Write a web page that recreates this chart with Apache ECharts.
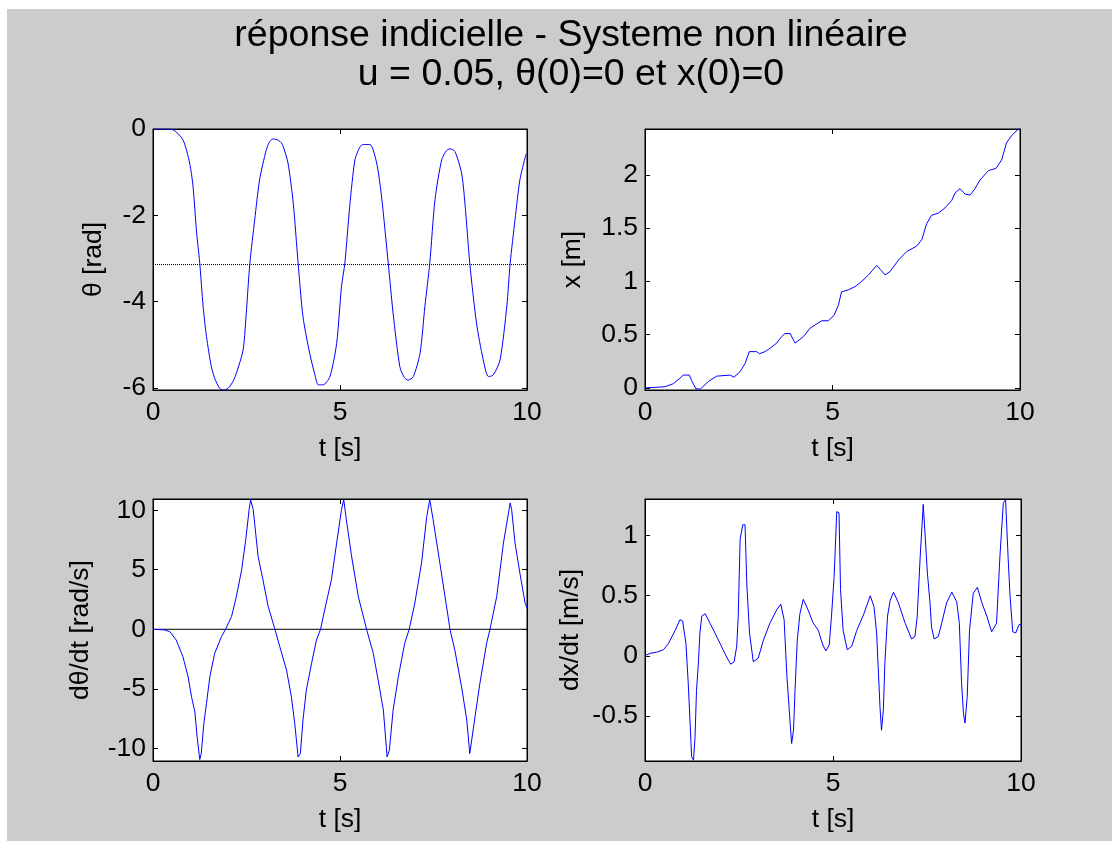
<!DOCTYPE html>
<html>
<head>
<meta charset="utf-8">
<script src="https://cdn.jsdelivr.net/npm/echarts@6/dist/echarts.min.js"></script>
<style>
  html, body { margin: 0; padding: 0; background: #ffffff; }
  #chart { width: 1112px; height: 841px; }
</style>
</head>
<body>
<div id="chart"></div>
<script>
// ---- simulated step response of the non-linear system (u = 0.05) ----
// pendulum angle theta [rad]
const tTheta = [0, 0.30, 0.54, 0.80, 0.98, 1.07, 1.16, 1.25, 1.34, 1.43, 1.56, 1.65, 1.78, 1.88, 2.01, 2.14, 2.23, 2.41, 2.50, 2.59, 2.72, 2.85, 3.03, 3.12, 3.21, 3.35, 3.43, 3.48, 3.61, 3.75, 3.88, 4.01, 4.19, 4.33, 4.42, 4.55, 4.73, 4.91, 5.04, 5.13, 5.26, 5.40, 5.53, 5.62, 5.80, 5.98, 6.11, 6.29, 6.42, 6.60, 6.72, 6.82, 6.96, 7.14, 7.27, 7.40, 7.54, 7.72, 7.85, 7.94, 8.07, 8.25, 8.34, 8.47, 8.65, 8.83, 8.97, 9.10, 9.28, 9.46, 9.55, 9.68, 9.81, 9.97, 10];
const theta  = [0, 0, -0.02, -0.25, -0.79, -1.33, -2.34, -3.11, -4.11, -4.81, -5.51, -5.78, -6.01, -6.05, -6.01, -5.85, -5.66, -5.12, -4.19, -3.11, -2.10, -1.18, -0.48, -0.29, -0.23, -0.26, -0.32, -0.40, -0.79, -1.72, -3.11, -4.35, -5.20, -5.70, -5.93, -5.93, -5.74, -4.97, -3.65, -3.11, -1.79, -0.71, -0.42, -0.36, -0.36, -0.79, -1.56, -3.11, -4.27, -5.51, -5.76, -5.82, -5.74, -5.20, -4.11, -3.11, -1.64, -0.71, -0.50, -0.46, -0.52, -1.02, -1.72, -3.11, -4.50, -5.35, -5.74, -5.70, -5.35, -4.11, -3.11, -2.10, -1.18, -0.60, -0.57];

// cart position x [m]
const tPos = [0, 0.53, 0.76, 0.93, 1.02, 1.18, 1.24, 1.36, 1.48, 1.69, 1.91, 2.27, 2.37, 2.53, 2.67, 2.78, 2.98, 3.05, 3.20, 3.33, 3.51, 3.64, 3.73, 3.87, 4.00, 4.04, 4.22, 4.40, 4.58, 4.71, 4.89, 5.04, 5.16, 5.24, 5.42, 5.60, 5.78, 5.96, 6.18, 6.28, 6.40, 6.53, 6.76, 6.98, 7.24, 7.38, 7.51, 7.64, 7.82, 8.00, 8.18, 8.27, 8.40, 8.53, 8.67, 8.80, 8.93, 9.16, 9.36, 9.51, 9.64, 9.78, 9.96, 10];
const xPos = [0, 0.01, 0.04, 0.09, 0.12, 0.12, 0.07, -0.01, -0.01, 0.06, 0.11, 0.12, 0.10, 0.15, 0.23, 0.34, 0.34, 0.32, 0.34, 0.37, 0.42, 0.48, 0.51, 0.51, 0.42, 0.42, 0.48, 0.56, 0.60, 0.63, 0.63, 0.68, 0.78, 0.90, 0.92, 0.95, 1.00, 1.06, 1.15, 1.11, 1.06, 1.09, 1.20, 1.28, 1.33, 1.39, 1.54, 1.62, 1.64, 1.69, 1.76, 1.83, 1.87, 1.82, 1.81, 1.87, 1.95, 2.04, 2.06, 2.14, 2.30, 2.37, 2.43, 2.43];

// angular velocity dtheta/dt [rad/s]
const tOmega = [0, 0.30, 0.45, 0.62, 0.80, 0.94, 1.03, 1.12, 1.18, 1.25, 1.29, 1.36, 1.43, 1.52, 1.65, 1.83, 1.94, 2.10, 2.23, 2.37, 2.48, 2.57, 2.61, 2.68, 2.81, 2.94, 3.08, 3.26, 3.39, 3.57, 3.70, 3.79, 3.88, 3.94, 4.01, 4.10, 4.24, 4.37, 4.48, 4.59, 4.77, 4.91, 5.04, 5.10, 5.17, 5.31, 5.49, 5.71, 5.89, 6.02, 6.16, 6.26, 6.32, 6.42, 6.56, 6.73, 6.85, 7.00, 7.18, 7.32, 7.40, 7.49, 7.67, 7.89, 7.94, 8.07, 8.25, 8.39, 8.47, 8.52, 8.61, 8.74, 8.92, 9.01, 9.19, 9.37, 9.55, 9.59, 9.68, 9.81, 9.95, 10];
const omega  = [0, -0.05, -0.2, -0.9, -2.3, -4.0, -5.67, -6.93, -9.03, -10.94, -10.44, -7.91, -6.23, -3.98, -2.02, -0.62, 0, 1.07, 2.75, 4.99, 7.52, 10.04, 10.89, 10.04, 6.12, 4.15, 1.91, 0, -1.46, -3.42, -5.67, -7.91, -10.72, -10.44, -7.63, -5.11, -2.86, -0.90, 0, 1.63, 4.15, 7.24, 10.04, 10.89, 9.20, 6.12, 2.75, 0, -2.02, -4.26, -6.79, -10.72, -10.16, -6.79, -3.98, -1.18, 0, 2.19, 5.56, 9.48, 10.89, 9.20, 5.56, 1.07, 0, -1.74, -4.83, -7.63, -10.44, -10.44, -7.35, -4.55, -1.18, 0, 2.75, 7.24, 10.61, 10.04, 7.24, 4.71, 2.19, 1.77];

// cart velocity dx/dt [m/s]
const tVel = [0, 0.13, 0.31, 0.49, 0.62, 0.80, 0.93, 1.00, 1.09, 1.15, 1.20, 1.24, 1.29, 1.33, 1.37, 1.42, 1.46, 1.51, 1.60, 1.73, 1.86, 2.00, 2.17, 2.28, 2.37, 2.44, 2.48, 2.53, 2.60, 2.66, 2.71, 2.78, 2.88, 3.01, 3.15, 3.32, 3.50, 3.61, 3.70, 3.77, 3.86, 3.90, 3.95, 3.99, 4.05, 4.12, 4.21, 4.34, 4.46, 4.61, 4.73, 4.81, 4.90, 4.96, 5.03, 5.10, 5.16, 5.20, 5.27, 5.38, 5.50, 5.63, 5.81, 5.99, 6.09, 6.16, 6.21, 6.25, 6.29, 6.34, 6.38, 6.45, 6.52, 6.61, 6.74, 6.92, 7.09, 7.18, 7.24, 7.32, 7.40, 7.45, 7.51, 7.58, 7.62, 7.69, 7.80, 7.89, 8.02, 8.16, 8.29, 8.36, 8.42, 8.47, 8.51, 8.57, 8.63, 8.73, 8.84, 8.96, 9.09, 9.22, 9.35, 9.44, 9.53, 9.59, 9.66, 9.71, 9.78, 9.86, 9.95, 10];
const vel  = [0, 0.02, 0.03, 0.05, 0.10, 0.21, 0.30, 0.29, 0.10, -0.23, -0.56, -0.84, -0.87, -0.68, -0.29, -0.06, 0.19, 0.33, 0.35, 0.27, 0.19, 0.10, -0.01, -0.07, -0.05, 0.08, 0.33, 0.97, 1.09, 1.09, 0.58, 0.19, -0.05, -0.02, 0.13, 0.27, 0.38, 0.43, 0.30, -0.15, -0.56, -0.73, -0.62, -0.29, 0.13, 0.35, 0.47, 0.38, 0.28, 0.21, 0.09, 0.04, 0.09, 0.33, 0.66, 1.20, 1.19, 0.55, 0.21, 0.05, 0.08, 0.21, 0.34, 0.50, 0.41, 0.19, -0.15, -0.43, -0.62, -0.45, -0.06, 0.33, 0.46, 0.53, 0.44, 0.27, 0.14, 0.16, 0.33, 0.83, 1.26, 1.27, 0.69, 0.44, 0.24, 0.14, 0.16, 0.27, 0.44, 0.53, 0.45, 0.27, -0.23, -0.48, -0.56, -0.34, 0.21, 0.52, 0.57, 0.44, 0.33, 0.20, 0.27, 0.83, 1.27, 1.30, 0.80, 0.49, 0.20, 0.19, 0.26, 0.26];

// tick labels of each panel
const timeTicks  = [0, 5, 10];
const thetaTicks = [-6, -4, -2, 0];
const posTicks   = [0, 0.5, 1, 1.5, 2];
const omegaTicks = [-10, -5, 0, 5, 10];
const velTicks   = [-0.5, 0, 0.5, 1];

// reference levels
const thetaRef = -Math.PI;   // upright position
const omegaRef = 0;

// axis limits (tight on data)
const yLimits = [[-6.05, 0], [-0.02, 2.43], [-11.06, 10.94], [-0.876, 1.305]];

const zip = (a, b) => a.map((v, i) => [v, b[i]]);

const FONT = 'Liberation Sans';
const FS = 26.5;

const panels = [
  { grid: { left: 153, top: 129, width: 374, height: 261 }, ylabel: 'θ [rad]',        ticks: thetaTicks, nameGap: 46 },
  { grid: { left: 645, top: 129, width: 375, height: 261 }, ylabel: 'x [m]',          ticks: posTicks,   nameGap: 59 },
  { grid: { left: 153, top: 499, width: 374, height: 262 }, ylabel: 'dθ/dt [rad/s]',  ticks: omegaTicks, nameGap: 59 },
  { grid: { left: 645, top: 499, width: 376, height: 262 }, ylabel: 'dx/dt [m/s]',    ticks: velTicks,   nameGap: 61 }
];

const grid = [], xAxis = [], yAxis = [];
const tickStyle = { show: true, inside: true, length: 5, lineStyle: { color: '#000', width: 1 } };
const lineStyleAxis = { show: true, onZero: false, lineStyle: { color: '#000', width: 1 } };

panels.forEach((p, i) => {
  grid.push(Object.assign({ show: true, backgroundColor: '#ffffff', borderColor: '#000', borderWidth: 1, containLabel: false }, p.grid));
  // bottom time axis
  xAxis.push({
    type: 'value', gridIndex: i, min: 0, max: 10, position: 'bottom',
    axisLine: lineStyleAxis,
    axisTick: Object.assign({ customValues: timeTicks }, tickStyle),
    splitLine: { show: false },
    axisLabel: { customValues: timeTicks, color: '#000', fontFamily: FONT, fontSize: FS, margin: 9 },
    name: 't [s]', nameLocation: 'middle', nameGap: 45,
    nameTextStyle: { color: '#000', fontFamily: FONT, fontSize: FS }
  });
  // top frame axis
  xAxis.push({
    type: 'value', gridIndex: i, min: 0, max: 10, position: 'top',
    axisLine: lineStyleAxis,
    axisTick: Object.assign({ customValues: timeTicks }, tickStyle),
    splitLine: { show: false },
    axisLabel: { show: false }
  });
  const [ymin, ymax] = yLimits[i];
  yAxis.push({
    type: 'value', gridIndex: i, min: ymin, max: ymax, position: 'left',
    axisLine: lineStyleAxis,
    axisTick: Object.assign({ customValues: p.ticks }, tickStyle),
    splitLine: { show: false },
    axisLabel: { customValues: p.ticks, color: '#000', fontFamily: FONT, fontSize: FS, margin: 7 },
    name: p.ylabel, nameLocation: 'middle', nameGap: p.nameGap,
    nameTextStyle: { color: '#000', fontFamily: FONT, fontSize: FS }
  });
  yAxis.push({
    type: 'value', gridIndex: i, min: ymin, max: ymax, position: 'right',
    axisLine: lineStyleAxis,
    axisTick: Object.assign({ customValues: p.ticks }, tickStyle),
    splitLine: { show: false },
    axisLabel: { show: false }
  });
});

const curve = (i, data) => ({
  type: 'line', xAxisIndex: 2 * i, yAxisIndex: 2 * i, data,
  showSymbol: false, symbol: 'none', animation: false, silent: true,
  lineStyle: { color: '#0000ff', width: 1 }
});
const refLine = (i, y, type) => ({
  type: 'line', xAxisIndex: 2 * i, yAxisIndex: 2 * i, data: [[0, y], [10, y]],
  showSymbol: false, symbol: 'none', animation: false, silent: true, z: 1,
  lineStyle: { color: '#000', width: 1, type }
});

const series = [
  refLine(0, thetaRef, 'dotted'),
  Object.assign(curve(0, zip(tTheta, theta)), { smooth: 0.25 }),
  curve(1, zip(tPos, xPos)),
  refLine(2, omegaRef, 'solid'),
  curve(2, zip(tOmega, omega)),
  curve(3, zip(tVel, vel))
];

const chart = echarts.init(document.getElementById('chart'), null, { renderer: 'canvas' });
chart.setOption({
  backgroundColor: '#cccccc',
  animation: false,
  title: {
    text: 'réponse indicielle - Systeme non linéaire\nu = 0.05, θ(0)=0 et x(0)=0',
    left: 566, top: 11, textAlign: 'center',
    textStyle: { color: '#000', fontFamily: FONT, fontSize: 37.5, fontWeight: 'normal', lineHeight: 39 }
  },
  graphic: [
    { type: 'rect', shape: { x: 0, y: 0, width: 1112, height: 9 }, style: { fill: '#ffffff' }, silent: true },
    { type: 'rect', shape: { x: 0, y: 0, width: 7, height: 841 }, style: { fill: '#ffffff' }, silent: true }
  ],
  grid, xAxis, yAxis, series
});
</script>
</body>
</html>
